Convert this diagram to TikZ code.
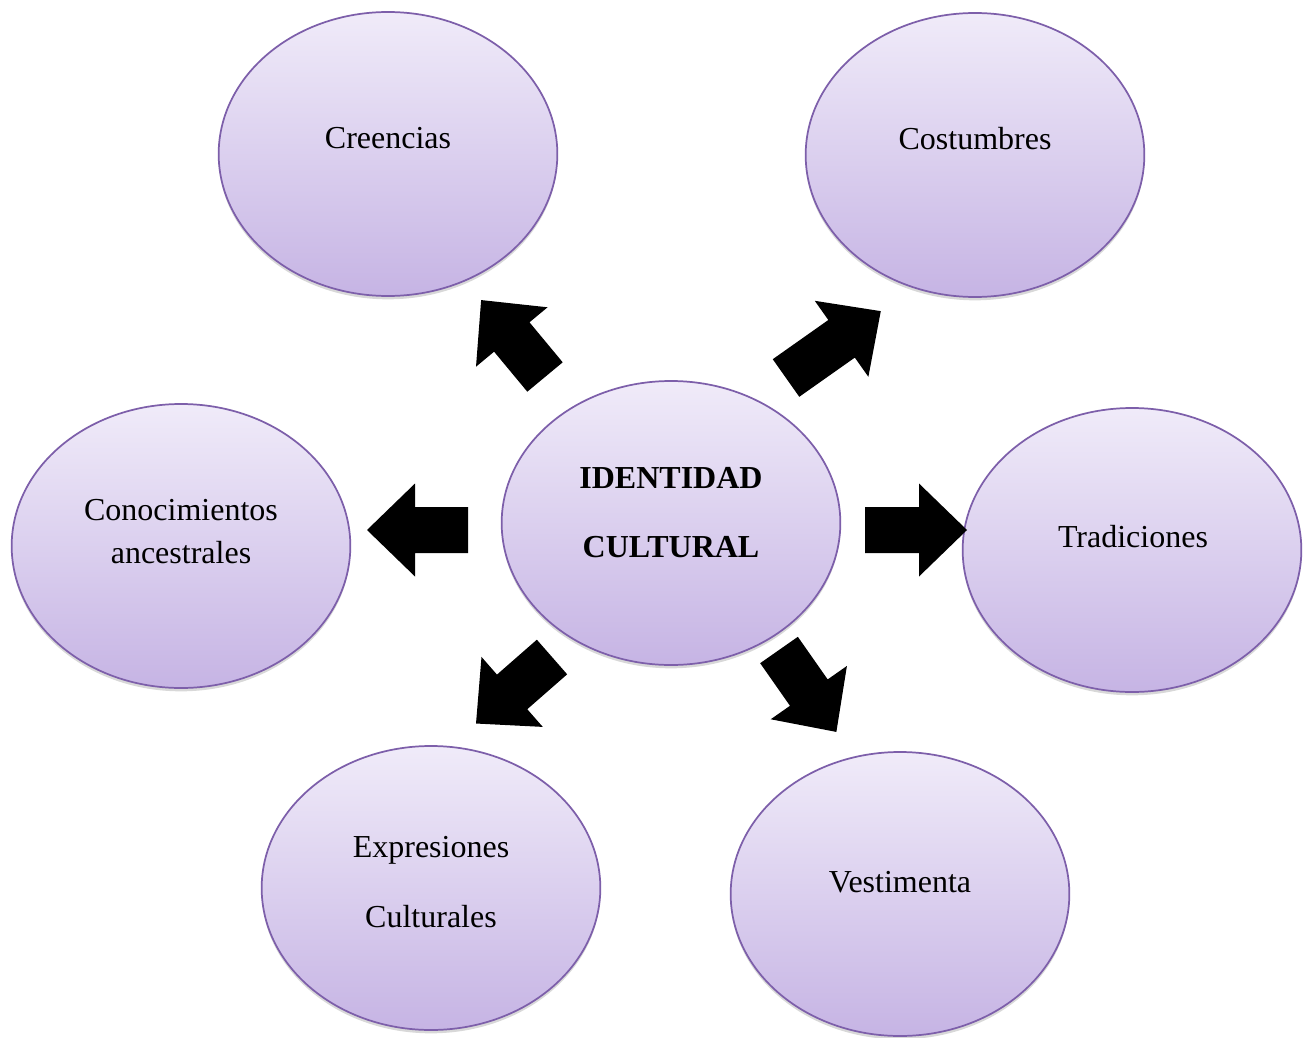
\documentclass[tikz,border=0pt]{standalone}
\usepackage{fontspec}
\setmainfont{Liberation Serif}
\usetikzlibrary{shapes.geometric,shadows}
\definecolor{ellTop}{RGB}{240,235,249}
\definecolor{ellBot}{RGB}{198,180,228}
\definecolor{ellLine}{RGB}{125,95,170}
\newcommand{\blockarr}[5]{%
  \fill[black,shift={(#2,#3)},rotate=#4] (0,-23) -- (#5-48,-23) -- (#5-48,-46.5) -- (#5,0) -- (#5-48,46.5) -- (#5-48,23) -- (0,23) -- cycle;
  \coordinate (#1) at (#2,#3);}
\begin{document}
\begin{tikzpicture}[x=0.75pt,y=-0.75pt,
  bubble/.style={ellipse,draw=ellLine,line width=1.3pt,top color=ellTop,bottom color=ellBot,
    minimum width=254pt,minimum height=213pt,inner sep=0pt,
    drop shadow={shadow xshift=0pt,shadow yshift=-2.5pt,opacity=0.25,fill=black!60}},
  lbl/.style={anchor=base,font=\fontsize{24}{28}\selectfont,inner sep=0pt}]
\useasboundingbox (0,0) rectangle (1313,1038);
\fill[white] (0,0) rectangle (1313,1038);
% ellipses
\node[bubble] (creencias) at (388,154) {};
\node[bubble] (costumbres) at (975,155) {};
\node[bubble] (centro) at (671,523) {};
\node[bubble] (conoc) at (181,546) {};
\node[bubble] (tradic) at (1132,550) {};
\node[bubble] (expres) at (431,888) {};
\node[bubble] (vestim) at (900,894) {};
% texts
\node[lbl] (t1) at (388,149) {Creencias};
\node[lbl] (t2) at (975,150) {Costumbres};
\node[lbl,font=\fontsize{24}{28}\selectfont\bfseries] (t3a) at (671,488) {IDENTIDAD};
\node[lbl,font=\fontsize{24}{28}\selectfont\bfseries] (t3b) at (671,557) {CULTURAL};
\node[lbl] (t4a) at (181,520) {Conocimientos};
\node[lbl] (t4b) at (181,563) {ancestrales};
\node[lbl] (t5) at (1133,547) {Tradiciones};
\node[lbl] (t6a) at (431,857) {Expresiones};
\node[lbl] (t6b) at (431,927) {Culturales};
\node[lbl] (t7) at (900,892) {Vestimenta};
% block arrows
\blockarr{aR}{865}{530}{0}{102}
\blockarr{aL}{468}{530}{180}{101}
\blockarr{aUL}{545}{377}{129.7}{100}
\blockarr{aUR}{786}{378}{35.2}{116}
\blockarr{aDL}{552}{657}{221.2}{101}
\blockarr{aDR}{779}{650}{-55}{100}
\end{tikzpicture}
\end{document}
